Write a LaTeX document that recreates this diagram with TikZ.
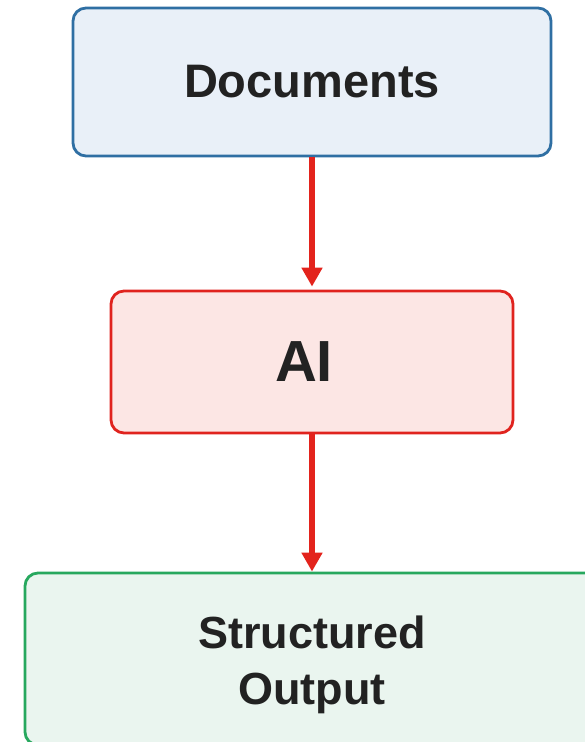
\documentclass[tikz,border=0pt]{standalone}
\usepackage{fontspec}
\setmainfont{Liberation Sans}
\usetikzlibrary{arrows.meta}

\definecolor{docline}{HTML}{2F6FA3}
\definecolor{docfill}{HTML}{E9F0F8}
\definecolor{ailine}{HTML}{E0231E}
\definecolor{aifill}{HTML}{FCE6E4}
\definecolor{outline}{HTML}{27A85E}
\definecolor{outfill}{HTML}{EAF5EF}
\definecolor{flow}{HTML}{E3231C}
\definecolor{label}{HTML}{222222}

\tikzset{
  box/.style={rounded corners=13pt, line width=2.8pt, inner sep=0pt,
    align=center, text=label, font=\bfseries},
  flowarrow/.style={draw=flow, line width=6.5pt,
    -{Triangle[width=20pt,length=19pt]}}
}

\begin{document}
\begin{tikzpicture}[x=1pt,y=1pt]
  \useasboundingbox (0,0) rectangle (585,742);

  \node[box, draw=docline, fill=docfill, minimum width=478pt, minimum height=148pt,
        font=\fontsize{47}{56}\selectfont\bfseries]
    (docs) at (312,660) {Documents};

  \node[box, draw=ailine, fill=aifill, minimum width=402pt, minimum height=142pt]
    (ai) at (312,380) {};
  \node[text=label, font=\fontsize{58}{68}\selectfont\bfseries, inner sep=0pt]
    (ailabel) at ([xshift=-8pt]ai.center) {AI};

  \node[box, draw=outline, fill=outfill, minimum width=574pt, minimum height=172pt]
    (out) at (312,83) {};
  \node[align=center, text=label, inner sep=0pt,
        font=\fontsize{45}{56.5}\selectfont\bfseries]
    (outlabel) at (312,77) {Structured\\Output};

  \draw[flowarrow, shorten >=3pt] (docs.south) -- (ai.north);
  \draw[flowarrow] (ai.south) -- (out.north);
\end{tikzpicture}
\end{document}
